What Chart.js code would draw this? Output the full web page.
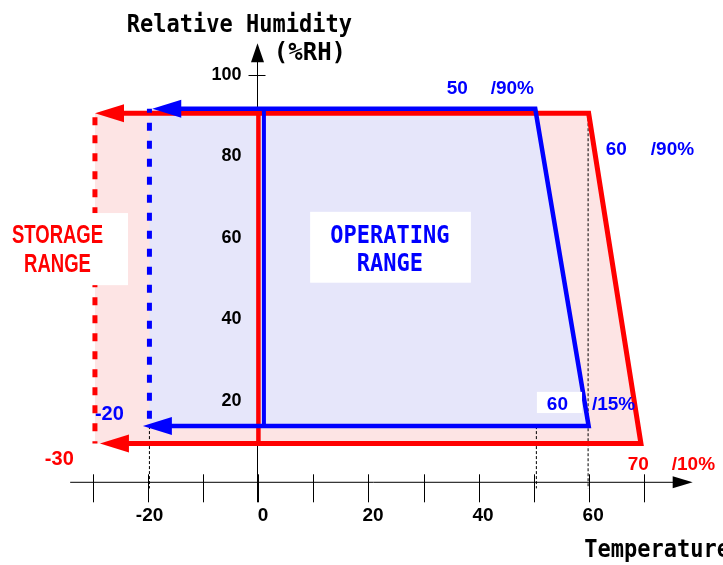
<!DOCTYPE html>
<html>
<head>
<meta charset="utf-8">
<script src="https://cdn.jsdelivr.net/npm/chart.js@4.4.1/dist/chart.umd.min.js"></script>
<style>
  html, body { margin: 0; padding: 0; background: #fff; }
</style>
</head>
<body>
<canvas id="rangeChart" width="723" height="565"></canvas>
<script>
// storage / operating areas, temperature (C) vs humidity (%RH)
const storageTemp = [-29.7, 60, 69.5, -29.7];
const storageRH = [90.6, 90.6, 9.5, 9.5];
const operTemp = [-19.8, 50.3, 60, -19.8];
const operRH = [91.7, 91.7, 13.8, 13.8];

// outlines, first and last point is where the arrow head begins
const storageLineTemp = [-24.6, 60, 69.5, -23.7];
const storageLineRH = [90.6, 90.6, 9.5, 9.5];
const operLineTemp = [-14.2, 50.3, 60, -15.9];
const operLineRH = [91.7, 91.7, 13.8, 13.8];

// dashed left edges and the solid uprights near 0
const storageEdgeTemp = [-29.7, -29.7];
const storageEdgeRH = [90.6, 9.5];
const operEdgeTemp = [-19.8, -19.8];
const operEdgeRH = [91.7, 13.8];
const storageUpTemp = [0, 0];
const storageUpRH = [90.6, 10];
const operUpTemp = [1, 1];
const operUpRH = [91.7, 13.8];

// dotted guides down to the temperature axis
const guideTemp = [-19.8, 50.5, 50.5, 59.9];
const guideTopRH = [13.8, 90.6, 13.8, 90.6];
const guideBottomRH = [-1.5, 87, -1.5, -1.5];

// axes
const xTicks = [-30, -20, -10, 0, 10, 20, 30, 40, 50, 60, 70];
const xTickLabels = ["", "-20", "", "0", "", "20", "", "40", "", "60", ""];
const yTicks = [20, 40, 60, 80, 100];
const yTickMarks = [10, 100];

// corner notes
const notes = [
    { text: "50", x: 34.2, y: 95.3, color: "#0000ff" },
    { text: "/90%", x: 42.2, y: 95.3, color: "#0000ff" },
    { text: "60", x: 63.1, y: 80.3, color: "#0000ff" },
    { text: "/90%", x: 71.3, y: 80.3, color: "#0000ff" },
    { text: "60", x: 52.4, y: 17.7, color: "#0000ff" },
    { text: "/15%", x: 60.6, y: 17.7, color: "#0000ff" },
    { text: "70", x: 67.1, y: 3.0, color: "#ff0000" },
    { text: "/10%", x: 75.1, y: 3.0, color: "#ff0000" },
    { text: "-20", x: -29.7, y: 15.3, color: "#0000ff", big: true },
    { text: "-30", x: -38.8, y: 4.2, color: "#ff0000", big: true }
];

// white boxes behind the range names: [x1, x2, y1, y2]
const boxes = [
    [-47, -23.7, 66.1, 48.4],
    [9.4, 38.6, 66.4, 49.0],
    [50.6, 58.8, 22.2, 17.0]
];

const RED = "#ff0000";
const BLUE = "#0000ff";
const MONO = '"DejaVu Sans Mono", monospace';
const SANS = '"Liberation Sans", Arial, sans-serif';

function pts(xs, ys) {
    return xs.map((v, i) => ({ x: v, y: ys[i] }));
}

function lineSet(xs, ys, color, width, order, extra) {
    return Object.assign({
        data: pts(xs, ys),
        showLine: true,
        borderColor: color,
        borderWidth: width,
        borderJoinStyle: "miter",
        borderCapStyle: "butt",
        pointRadius: 0,
        fill: false,
        tension: 0,
        order: order
    }, extra || {});
}

const datasets = [
    lineSet(storageTemp, storageRH, "rgba(0,0,0,0)", 1, 20, { fill: "shape", backgroundColor: "rgb(253,228,228)" }),
    lineSet(operTemp, operRH, "rgba(0,0,0,0)", 1, 18, { fill: "shape", backgroundColor: "rgb(230,230,250)" }),
    lineSet(storageEdgeTemp, storageEdgeRH, RED, 5, 10, { borderDash: [8, 10], borderDashOffset: 14 }),
    lineSet(storageUpTemp, storageUpRH, RED, 4.5, 9),
    lineSet(storageLineTemp, storageLineRH, RED, 5, 8, { arrowEnds: true }),
    lineSet(operEdgeTemp, operEdgeRH, BLUE, 5, 7, { borderDash: [8, 10], borderDashOffset: 4 }),
    lineSet(operUpTemp, operUpRH, BLUE, 4, 6),
    lineSet(operLineTemp, operLineRH, BLUE, 4.5, 5, { arrowEnds: true })
];
guideTemp.forEach((t, i) => {
    datasets.push(lineSet([t, t], [guideTopRH[i], guideBottomRH[i]], "#000", 1, 19, { borderDash: [3, 2] }));
});

function arrowHead(ctx, from, to, color, len, half) {
    const a = Math.atan2(to.y - from.y, to.x - from.x);
    ctx.save();
    ctx.translate(to.x, to.y);
    ctx.rotate(a);
    ctx.beginPath();
    ctx.moveTo(len, 0);
    ctx.lineTo(-1, -half);
    ctx.lineTo(-1, half);
    ctx.closePath();
    ctx.fillStyle = color;
    ctx.fill();
    ctx.restore();
}

function stretchedText(ctx, text, x, y, font, align, sx, sy, color) {
    ctx.save();
    ctx.translate(x, y);
    ctx.scale(sx, sy);
    ctx.font = font;
    ctx.textAlign = align;
    ctx.textBaseline = "alphabetic";
    ctx.fillStyle = color;
    ctx.fillText(text, 0, 0);
    ctx.restore();
}

const decor = {
    id: "decor",
    beforeDatasetsDraw(chart) {
        const ctx = chart.ctx;
        const sx = chart.scales.x, sy = chart.scales.y;
        const x0 = sx.getPixelForValue(0), y0 = sy.getPixelForValue(0);
        ctx.save();
        ctx.strokeStyle = "#000";
        ctx.lineWidth = 1;
        // temperature axis
        ctx.beginPath();
        ctx.moveTo(sx.getPixelForValue(-34.2), y0);
        ctx.lineTo(sx.getPixelForValue(76), y0);
        xTicks.forEach(t => {
            const p = Math.round(sx.getPixelForValue(t)) + 0.5;
            ctx.moveTo(p, y0 - 8);
            ctx.lineTo(p, y0 + 20);
        });
        // humidity axis
        const xa = Math.round(x0) - 0.5;
        ctx.moveTo(xa, y0 + 20);
        ctx.lineTo(xa, sy.getPixelForValue(104));
        yTickMarks.forEach(t => {
            const p = Math.round(sy.getPixelForValue(t)) + 0.5;
            ctx.moveTo(xa - 9, p);
            ctx.lineTo(xa + 8, p);
        });
        ctx.stroke();
        ctx.restore();
        const xEnd = sx.getPixelForValue(78.9);
        arrowHead(ctx, { x: xEnd - 30, y: y0 }, { x: xEnd - 19, y: y0 }, "#000", 19, 6);
        const yEnd = sy.getPixelForValue(107.8);
        arrowHead(ctx, { x: xa, y: yEnd + 30 }, { x: xa, y: yEnd + 18 }, "#000", 18, 6.5);
    },
    afterDatasetsDraw(chart) {
        const ctx = chart.ctx;
        const sx = chart.scales.x, sy = chart.scales.y;
        const X = v => sx.getPixelForValue(v), Y = v => sy.getPixelForValue(v);

        chart.data.datasets.forEach((ds, i) => {
            if (!ds.arrowEnds) return;
            const p = chart.getDatasetMeta(i).data;
            arrowHead(ctx, p[1], p[0], ds.borderColor, 28, 9);
            arrowHead(ctx, p[p.length - 2], p[p.length - 1], ds.borderColor, 28, 9);
        });

        ctx.save();
        ctx.fillStyle = "#fff";
        boxes.forEach(b => {
            ctx.fillRect(X(b[0]), Y(b[2]), X(b[1]) - X(b[0]), Y(b[3]) - Y(b[2]));
        });
        ctx.restore();

        // range names
        stretchedText(ctx, "STORAGE", X(-36.5), Y(58.7), "bold 25px " + SANS, "center", 0.74, 1, RED);
        stretchedText(ctx, "RANGE", X(-36.5), Y(51.7), "bold 25px " + SANS, "center", 0.74, 1, RED);
        stretchedText(ctx, "OPERATING", X(23.9), Y(58.7), "bold 22px " + MONO, "center", 1, 1.15, BLUE);
        stretchedText(ctx, "RANGE", X(23.9), Y(51.9), "bold 22px " + MONO, "center", 1, 1.15, BLUE);

        notes.forEach(n => {
            stretchedText(ctx, n.text, X(n.x), Y(n.y), "bold " + (n.big ? 20 : 19) + "px " + SANS, "left", 1, 1, n.color);
        });

        // tick labels
        ctx.save();
        ctx.fillStyle = "#000";
        ctx.font = "bold 19px " + SANS;
        ctx.textBaseline = "alphabetic";
        xTicks.forEach((t, i) => {
            const lab = xTickLabels[i];
            if (!lab) return;
            if (t < 0) {
                ctx.textAlign = "right";
                ctx.fillText(lab, X(t) + 15, Y(0) + 39);
            } else {
                ctx.textAlign = "center";
                ctx.fillText(lab, X(t) + 4.5, Y(0) + 39);
            }
        });
        ctx.font = "bold 18px " + SANS;
        ctx.textAlign = "right";
        ctx.textBaseline = "middle";
        yTicks.forEach(t => {
            ctx.fillText(String(t), X(0) - 17, Y(t));
        });
        ctx.restore();

        // axis titles
        stretchedText(ctx, "Relative Humidity", X(-23.9), Y(110.6), "bold 22px " + MONO, "left", 1, 1.15, "#000");
        stretchedText(ctx, "(%RH)", X(2.8), Y(103.7), "bold 24px " + MONO, "left", 1, 1, "#000");
        stretchedText(ctx, "Temperature", X(59.2), Y(-18.3), "bold 22px " + MONO, "left", 1, 1.15, "#000");
    }
};

new Chart(document.getElementById("rangeChart"), {
    type: "scatter",
    data: { datasets: datasets },
    options: {
        responsive: false,
        animation: false,
        events: [],
        layout: { padding: 0 },
        plugins: {
            legend: { display: false },
            tooltip: { enabled: false }
        },
        scales: {
            x: { type: "linear", min: -46.95, max: 84.41, display: false },
            y: { type: "linear", min: -20.3, max: 118.4, display: false }
        }
    },
    plugins: [decor]
});
</script>
</body>
</html>
